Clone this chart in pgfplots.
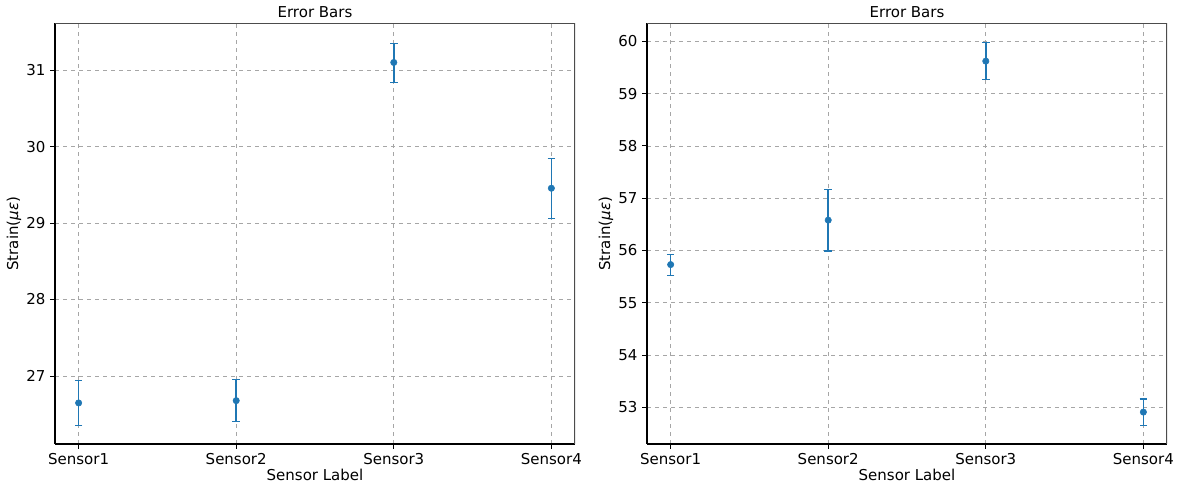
\documentclass[border=0pt]{standalone}
\usepackage{fontspec}
\setmainfont{DejaVu Sans}
\usepackage{pgfplots}
\pgfplotsset{compat=1.18}

\definecolor{mplblue}{HTML}{1F77B4}

\pgfplotsset{
  errpanel/.style={
    scale only axis,
    width=390pt, height=315.4pt,
    anchor=south west,
    axis lines=left,
    axis line style={-, black, line width=0.8pt},
    xmin=-0.15, xmax=3.15,
    xtick={0,1,2,3},
    xticklabels={Sensor1,Sensor2,Sensor3,Sensor4},
    tick align=outside,
    major tick length=3.6pt,
    tick style={black, line width=0.6pt},
    grid=major,
    major grid style={dashed, gray!70, line width=0.5pt},
    /pgf/number format/assume math mode=true,
    ticklabel style={font=\fontsize{11.25}{13}\selectfont},
    label style={font=\fontsize{11.25}{13}\selectfont},
    title style={font=\fontsize{11.25}{13}\selectfont, yshift=-5pt},
    title={Error Bars},
    xlabel={Sensor Label},
    ylabel={Strain(\textit{με})},
    xlabel style={yshift=4pt},
    ylabel style={yshift=-3pt},
  },
  errplot/.style={
    color=mplblue, only marks, mark=*, mark size=2.4pt,
    mark options={fill=mplblue, draw=mplblue},
    error bars/.cd, y dir=both, y explicit,
    error bar style={line width=1.1pt, mplblue},
    error mark options={rotate=90, mark size=2.8pt, line width=0.8pt, mplblue},
  },
}

\begin{document}
\begin{tikzpicture}
\useasboundingbox (0,0) rectangle (885pt,366pt);

\begin{axis}[errpanel, at={(41.25pt,33pt)},
  ymin=26.11, ymax=31.61, ytick={27,28,29,30,31}]
\addplot[errplot] coordinates {
  (0,26.647) += (0,0.288) -= (0,0.292)
  (1,26.677) += (0,0.280) -= (0,0.277)
  (2,31.100) += (0,0.250) -= (0,0.260)
  (3,29.455) += (0,0.395) -= (0,0.395)
};
\draw[gray!60!black, line width=0.8pt] (rel axis cs:0,1) -- (rel axis cs:1,1) -- (rel axis cs:1,0);
\end{axis}

\begin{axis}[errpanel, at={(485.25pt,33pt)},
  ymin=52.30, ymax=60.34, ytick={53,54,55,56,57,58,59,60}]
\addplot[errplot] coordinates {
  (0,55.73) += (0,0.20) -= (0,0.21)
  (1,56.58) += (0,0.58) -= (0,0.59)
  (2,59.62) += (0,0.35) -= (0,0.35)
  (3,52.91) += (0,0.25) -= (0,0.25)
};
\draw[gray!60!black, line width=0.8pt] (rel axis cs:0,1) -- (rel axis cs:1,1) -- (rel axis cs:1,0);
\end{axis}
\end{tikzpicture}
\end{document}
